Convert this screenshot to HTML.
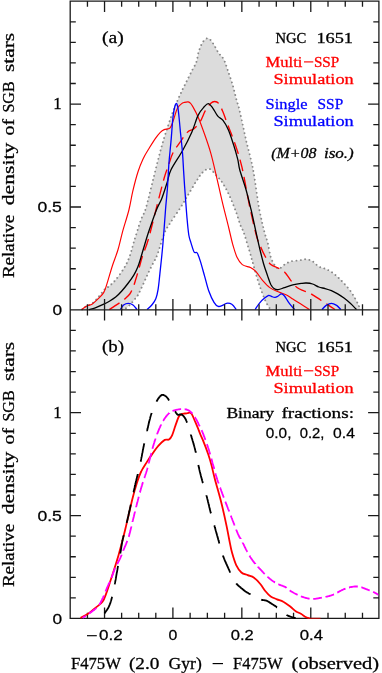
<!DOCTYPE html>
<html><head><meta charset="utf-8"><title>NGC 1651 SGB density</title>
<style>
html,body{margin:0;padding:0;background:#fff;}
body{width:382px;height:673px;overflow:hidden;}
svg{display:block;font-family:"Liberation Serif",serif;}
svg text{stroke-width:0.3px;}
</style></head>
<body>
<svg width="382" height="673" viewBox="0 0 382 673">
<rect x="0" y="0" width="382" height="673" fill="#fff"/>
<path d="M82.0,309.4C82.6,308.9 84.0,307.5 85.7,306.5C87.4,305.5 89.9,305.1 92.0,303.5C94.1,301.9 96.2,299.5 98.3,297.1C100.4,294.7 102.9,291.1 104.7,289.3C106.5,287.5 107.5,287.7 109.3,286.1C111.1,284.5 113.3,282.7 115.7,279.8C118.1,276.9 121.4,272.5 123.6,268.8C125.8,265.1 127.3,262.5 129.1,257.9C130.8,253.3 132.2,247.6 134.1,241.4C136.0,235.2 138.7,226.1 140.7,220.5C142.7,214.9 143.7,215.3 145.9,208.0C148.1,200.7 151.2,187.0 153.8,176.8C156.4,166.6 158.8,156.4 161.6,146.6C164.4,136.8 168.2,125.2 170.6,118.1C173.0,111.0 174.3,108.5 176.1,104.0C177.9,99.5 179.8,95.3 181.6,91.4C183.4,87.5 185.3,84.1 187.1,80.4C188.9,76.7 191.0,72.5 192.6,69.4C194.2,66.3 195.5,64.6 196.5,61.6C197.5,58.6 197.8,54.6 198.8,51.4C199.8,48.2 201.2,44.5 202.7,42.3C204.2,40.1 206.2,38.1 208.0,38.3C209.8,38.5 211.5,41.2 213.2,43.6C214.9,46.0 216.7,50.1 218.4,52.7C220.2,55.3 222.2,56.5 223.7,59.3C225.2,62.1 226.1,65.3 227.6,69.7C229.1,74.1 231.3,80.2 232.8,85.4C234.3,90.7 235.8,97.6 236.8,101.2C237.8,104.8 237.7,102.7 238.7,106.8C239.7,110.9 241.5,119.3 242.9,125.6C244.3,131.9 245.7,138.6 247.1,144.5C248.5,150.4 250.2,156.3 251.3,161.2C252.4,166.0 252.5,165.9 253.8,173.6C255.1,181.3 257.3,198.0 259.0,207.6C260.7,217.2 262.8,225.4 264.2,231.2C265.6,237.0 266.6,238.3 267.7,242.6C268.8,246.9 269.6,253.4 270.8,257.2C272.0,261.0 273.6,263.7 275.0,265.6C276.4,267.5 277.6,268.9 279.2,268.7C280.8,268.5 282.6,265.8 284.5,264.6C286.4,263.4 288.3,262.1 290.7,261.4C293.1,260.7 296.5,260.8 299.1,260.4C301.7,260.0 304.1,259.1 306.3,259.3C308.6,259.5 310.5,260.2 312.6,261.4C314.7,262.6 316.7,265.4 318.8,266.6C320.9,267.8 323.0,267.8 325.1,268.7C327.2,269.6 329.3,270.5 331.4,271.9C333.5,273.3 335.6,275.2 337.7,277.1C339.8,279.0 341.9,281.1 344.0,283.4C346.1,285.7 348.4,288.1 350.3,290.7C352.2,293.3 354.1,296.7 355.5,299.1C356.9,301.6 357.7,303.7 358.6,305.4C359.5,307.1 360.4,308.8 360.7,309.5L270.5,309.5L270.5,309.5C270.4,309.3 270.6,309.9 269.8,308.5C269.0,307.1 267.0,304.2 265.6,301.2C264.2,298.2 262.8,294.5 261.4,290.7C260.0,286.9 258.6,282.7 257.2,278.2C255.8,273.7 254.4,268.4 253.0,263.5C251.6,258.6 250.4,254.1 248.8,248.8C247.2,243.6 244.9,235.8 243.6,232.0C242.2,228.2 242.1,229.5 240.7,225.9C239.3,222.3 237.4,215.4 235.4,210.2C233.4,205.0 231.1,199.1 228.9,194.5C226.7,189.9 224.6,186.0 222.4,182.7C220.2,179.4 218.0,177.2 215.8,174.9C213.6,172.6 211.5,169.2 209.3,168.8C207.1,168.4 204.9,170.2 202.7,172.3C200.5,174.4 198.6,177.7 196.2,181.4C193.8,185.1 190.9,190.1 188.3,194.5C185.7,198.9 183.6,202.8 180.5,207.6C177.4,212.4 172.7,219.0 170.0,223.3C167.3,227.6 166.3,228.4 164.2,233.6C162.1,238.8 159.1,249.9 157.3,254.7C155.5,259.5 154.8,259.7 153.4,262.6C152.0,265.5 150.1,269.0 148.7,272.0C147.3,275.0 146.1,277.7 144.8,280.6C143.5,283.5 142.0,286.8 140.8,289.3C139.6,291.8 138.9,293.7 137.7,295.5C136.5,297.3 135.1,298.7 133.8,300.3C132.5,301.9 131.2,303.6 129.8,305.0C128.4,306.4 126.4,308.1 125.1,308.9C123.8,309.6 122.5,309.4 122.0,309.5Z" fill="#dcdcdc" stroke="none"/>
<path d="M82.0,309.4C82.6,308.9 84.0,307.5 85.7,306.5C87.4,305.5 89.9,305.1 92.0,303.5C94.1,301.9 96.2,299.5 98.3,297.1C100.4,294.7 102.9,291.1 104.7,289.3C106.5,287.5 107.5,287.7 109.3,286.1C111.1,284.5 113.3,282.7 115.7,279.8C118.1,276.9 121.4,272.5 123.6,268.8C125.8,265.1 127.3,262.5 129.1,257.9C130.8,253.3 132.2,247.6 134.1,241.4C136.0,235.2 138.7,226.1 140.7,220.5C142.7,214.9 143.7,215.3 145.9,208.0C148.1,200.7 151.2,187.0 153.8,176.8C156.4,166.6 158.8,156.4 161.6,146.6C164.4,136.8 168.2,125.2 170.6,118.1C173.0,111.0 174.3,108.5 176.1,104.0C177.9,99.5 179.8,95.3 181.6,91.4C183.4,87.5 185.3,84.1 187.1,80.4C188.9,76.7 191.0,72.5 192.6,69.4C194.2,66.3 195.5,64.6 196.5,61.6C197.5,58.6 197.8,54.6 198.8,51.4C199.8,48.2 201.2,44.5 202.7,42.3C204.2,40.1 206.2,38.1 208.0,38.3C209.8,38.5 211.5,41.2 213.2,43.6C214.9,46.0 216.7,50.1 218.4,52.7C220.2,55.3 222.2,56.5 223.7,59.3C225.2,62.1 226.1,65.3 227.6,69.7C229.1,74.1 231.3,80.2 232.8,85.4C234.3,90.7 235.8,97.6 236.8,101.2C237.8,104.8 237.7,102.7 238.7,106.8C239.7,110.9 241.5,119.3 242.9,125.6C244.3,131.9 245.7,138.6 247.1,144.5C248.5,150.4 250.2,156.3 251.3,161.2C252.4,166.0 252.5,165.9 253.8,173.6C255.1,181.3 257.3,198.0 259.0,207.6C260.7,217.2 262.8,225.4 264.2,231.2C265.6,237.0 266.6,238.3 267.7,242.6C268.8,246.9 269.6,253.4 270.8,257.2C272.0,261.0 273.6,263.7 275.0,265.6C276.4,267.5 277.6,268.9 279.2,268.7C280.8,268.5 282.6,265.8 284.5,264.6C286.4,263.4 288.3,262.1 290.7,261.4C293.1,260.7 296.5,260.8 299.1,260.4C301.7,260.0 304.1,259.1 306.3,259.3C308.6,259.5 310.5,260.2 312.6,261.4C314.7,262.6 316.7,265.4 318.8,266.6C320.9,267.8 323.0,267.8 325.1,268.7C327.2,269.6 329.3,270.5 331.4,271.9C333.5,273.3 335.6,275.2 337.7,277.1C339.8,279.0 341.9,281.1 344.0,283.4C346.1,285.7 348.4,288.1 350.3,290.7C352.2,293.3 354.1,296.7 355.5,299.1C356.9,301.6 357.7,303.7 358.6,305.4C359.5,307.1 360.4,308.8 360.7,309.5" fill="none" stroke="#888888" stroke-width="1.9" stroke-linecap="round" stroke-dasharray="0.01 4.35"/>
<path d="M122.0,309.5C122.5,309.4 123.8,309.6 125.1,308.9C126.4,308.1 128.4,306.4 129.8,305.0C131.2,303.6 132.5,301.9 133.8,300.3C135.1,298.7 136.5,297.3 137.7,295.5C138.9,293.7 139.6,291.8 140.8,289.3C142.0,286.8 143.5,283.5 144.8,280.6C146.1,277.7 147.3,275.0 148.7,272.0C150.1,269.0 152.0,265.5 153.4,262.6C154.8,259.7 155.5,259.5 157.3,254.7C159.1,249.9 162.1,238.8 164.2,233.6C166.3,228.4 167.3,227.6 170.0,223.3C172.7,219.0 177.4,212.4 180.5,207.6C183.6,202.8 185.7,198.9 188.3,194.5C190.9,190.1 193.8,185.1 196.2,181.4C198.6,177.7 200.5,174.4 202.7,172.3C204.9,170.2 207.1,168.4 209.3,168.8C211.5,169.2 213.6,172.6 215.8,174.9C218.0,177.2 220.2,179.4 222.4,182.7C224.6,186.0 226.7,189.9 228.9,194.5C231.1,199.1 233.4,205.0 235.4,210.2C237.4,215.4 239.3,222.3 240.7,225.9C242.1,229.5 242.2,228.2 243.6,232.0C244.9,235.8 247.2,243.6 248.8,248.8C250.4,254.1 251.6,258.6 253.0,263.5C254.4,268.4 255.8,273.7 257.2,278.2C258.6,282.7 260.0,286.9 261.4,290.7C262.8,294.5 264.2,298.2 265.6,301.2C267.0,304.2 269.0,307.1 269.8,308.5C270.6,309.9 270.4,309.3 270.5,309.5" fill="none" stroke="#888888" stroke-width="1.9" stroke-linecap="round" stroke-dasharray="0.01 4.35"/>
<path d="M81.8,309.4C82.7,308.8 85.6,306.7 87.3,305.8C89.0,304.9 90.2,305.4 92.0,304.2C93.8,303.0 96.3,300.7 98.3,298.7C100.3,296.7 102.2,295.3 103.8,292.4C105.4,289.5 106.3,285.8 107.7,281.4C109.1,276.9 110.7,270.9 112.4,265.7C114.1,260.5 116.2,255.6 117.9,250.0C119.6,244.4 120.6,239.0 122.4,232.3C124.2,225.6 127.2,216.8 128.9,210.0C130.6,203.2 131.3,197.6 132.8,191.2C134.3,184.8 136.3,177.0 138.1,171.5C139.8,166.0 141.6,162.1 143.3,158.4C145.0,154.7 146.5,152.6 148.5,149.3C150.5,146.0 153.1,141.6 155.1,138.8C157.1,136.0 158.8,133.8 160.3,132.3C161.8,130.8 162.6,130.3 164.2,129.6C165.8,128.9 168.4,129.5 169.9,128.1C171.4,126.7 171.8,124.6 173.0,121.4C174.2,118.2 175.8,111.7 177.2,108.8C178.6,105.9 180.2,104.9 181.4,103.8C182.6,102.7 183.4,102.7 184.5,102.4C185.6,102.1 187.2,101.8 188.2,101.9C189.2,102.1 189.8,102.5 190.6,103.3C191.4,104.1 191.6,104.5 192.9,106.8C194.2,109.1 196.3,112.7 198.2,117.2C200.1,121.7 202.4,128.1 204.5,134.0C206.6,139.9 208.8,146.2 210.7,152.8C212.6,159.4 213.9,165.3 215.8,173.6C217.8,181.9 220.2,193.2 222.4,202.4C224.6,211.6 227.2,221.4 228.9,228.5C230.6,235.6 231.5,239.9 232.8,244.7C234.2,249.5 235.4,253.9 237.0,257.2C238.6,260.5 240.0,262.9 242.3,264.6C244.6,266.4 248.6,266.5 250.9,267.7C253.2,268.9 254.3,269.8 256.2,271.9C258.1,274.0 260.2,277.7 262.5,280.3C264.8,282.9 267.2,285.7 269.8,287.6C272.4,289.5 275.4,290.6 278.2,291.8C281.0,293.0 284.1,293.7 286.5,294.9C288.9,296.1 290.4,297.5 292.8,299.1C295.2,300.7 298.4,302.6 301.2,304.3C304.0,306.0 308.0,308.6 309.4,309.5" fill="none" stroke="#ff0000" stroke-width="1.15"/>
<path d="M109.3,309.5C110.9,308.5 116.2,305.2 118.8,303.4C121.4,301.6 123.3,300.3 125.1,298.7C126.9,297.1 128.5,295.8 129.8,294.0C131.1,292.2 131.9,290.3 133.0,287.7C134.1,285.1 135.0,281.7 136.1,278.3C137.2,274.9 138.2,271.0 139.3,267.3C140.4,263.6 140.9,261.1 142.4,256.3C143.9,251.6 146.2,246.9 148.5,238.8C150.8,230.8 153.8,218.1 156.4,208.0C159.0,197.9 162.2,184.9 164.2,178.0C166.2,171.1 166.7,170.5 168.2,166.3C169.7,162.1 170.8,157.1 173.0,152.8C175.2,148.5 179.0,143.8 181.4,140.3C183.8,136.8 185.6,133.8 187.7,131.9C189.8,130.0 191.9,130.4 194.0,128.7C196.1,126.9 198.4,124.4 200.3,121.4C202.2,118.4 203.5,113.9 205.2,110.9C206.9,107.9 208.9,105.2 210.5,103.6C212.1,102.0 213.3,101.5 214.7,101.5C216.1,101.5 217.4,101.8 218.8,103.6C220.2,105.3 221.6,108.7 223.0,112.0C224.4,115.3 225.8,119.8 227.2,123.5C228.6,127.2 229.7,129.5 231.4,134.0C233.1,138.5 235.6,145.5 237.3,150.7C239.0,155.9 240.3,160.8 241.5,165.4C242.7,170.0 242.8,171.0 244.2,178.0C245.6,185.0 247.8,197.9 249.9,207.6C252.0,217.3 254.8,229.9 256.6,236.4C258.4,242.9 259.1,243.3 260.6,246.8C262.1,250.3 263.9,254.2 265.6,257.2C267.3,260.2 268.7,262.8 270.8,264.6C272.9,266.4 275.9,266.9 278.2,268.1C280.5,269.3 282.4,269.9 284.5,271.9C286.6,273.9 288.6,277.7 290.7,280.3C292.8,282.9 294.9,285.9 297.0,287.6C299.1,289.3 301.1,289.8 303.3,290.7C305.5,291.6 308.4,292.1 310.0,292.8C311.6,293.5 310.8,293.7 312.6,294.9C314.4,296.1 318.5,298.6 320.9,300.2C323.3,301.8 325.1,302.9 327.2,304.3C329.3,305.7 332.2,307.6 333.5,308.5C334.8,309.4 334.8,309.3 335.0,309.5" fill="none" stroke="#ff0000" stroke-width="1.35" stroke-dasharray="12 6" stroke-dashoffset="0"/>
<path d="M88.8,309.6C89.9,309.3 92.9,308.7 95.3,307.8C97.7,306.9 100.8,305.5 103.2,304.4C105.6,303.3 107.3,302.4 109.4,301.2C111.5,300.0 113.6,298.8 115.7,297.1C117.8,295.4 119.9,293.2 122.0,290.8C124.1,288.4 126.3,285.6 128.3,283.0C130.3,280.4 132.2,277.7 133.8,275.1C135.4,272.5 136.5,270.2 137.7,267.3C138.9,264.4 139.9,260.9 140.8,257.9C141.7,254.9 142.0,253.6 143.3,249.3C144.6,245.0 146.3,238.9 148.5,232.3C150.7,225.8 154.2,215.6 156.4,210.0C158.6,204.4 159.8,203.4 161.6,199.0C163.3,194.6 165.3,188.1 166.9,183.3C168.5,178.5 168.3,175.4 170.9,170.0C173.5,164.6 179.0,157.0 182.5,150.7C186.0,144.3 189.3,137.8 191.9,131.9C194.5,126.0 196.1,119.3 198.2,115.1C200.2,110.9 202.5,108.7 204.2,106.8C205.9,104.9 207.0,103.4 208.4,103.6C209.8,103.8 211.0,105.7 212.6,107.8C214.2,109.9 216.1,114.1 217.8,116.2C219.5,118.3 221.2,118.1 223.0,120.4C224.8,122.7 226.6,125.8 228.3,129.8C230.1,133.8 231.9,139.6 233.5,144.5C235.1,149.4 236.6,154.8 237.7,159.1C238.8,163.3 238.4,165.0 239.8,170.0C241.2,175.0 244.0,182.6 245.9,189.3C247.8,196.0 249.4,202.8 251.2,210.2C252.9,217.6 255.0,227.7 256.4,233.8C257.8,239.9 258.1,241.9 259.3,246.8C260.5,251.8 262.1,258.6 263.5,263.5C264.9,268.4 266.5,272.6 267.7,276.1C268.9,279.6 269.8,282.4 270.8,284.5C271.9,286.6 272.8,287.7 274.0,288.6C275.2,289.5 276.4,289.9 278.2,289.7C279.9,289.5 282.1,288.4 284.5,287.6C286.9,286.8 290.0,285.6 292.8,284.9C295.6,284.2 298.9,283.7 301.2,283.4C303.4,283.1 304.4,282.9 306.3,283.0C308.2,283.1 310.5,283.3 312.6,284.0C314.7,284.7 316.7,286.2 318.8,287.0C320.9,287.8 323.0,288.0 325.1,288.6C327.2,289.2 329.3,289.8 331.4,290.7C333.5,291.6 335.6,292.7 337.7,293.9C339.8,295.1 341.9,296.5 344.0,298.1C346.1,299.7 348.4,301.6 350.3,303.3C352.2,305.0 354.5,307.5 355.5,308.5C356.5,309.5 356.3,309.3 356.5,309.5" fill="none" stroke="#000" stroke-width="1.3"/>
<path d="M120.4,309.5C120.9,308.8 122.3,306.0 123.6,305.0C124.9,304.0 126.7,303.4 128.3,303.4C129.9,303.4 131.6,304.0 133.0,305.0C134.4,306.0 136.3,308.8 137.0,309.5" fill="none" stroke="#0000ff" stroke-width="1.3"/>
<path d="M147.1,309.5C147.9,308.8 150.4,306.8 151.8,305.0C153.2,303.2 154.8,301.3 155.8,298.7C156.9,296.1 157.4,293.5 158.1,289.3C158.8,285.1 159.1,281.2 159.9,273.6C160.7,266.1 162.0,254.6 162.9,244.0C163.8,233.4 164.8,219.2 165.5,210.0C166.2,200.8 166.8,196.4 167.4,188.5C168.0,180.6 168.4,170.1 169.0,162.4C169.6,154.7 170.2,149.9 170.9,142.4C171.6,134.9 172.3,123.2 173.0,117.2C173.7,111.2 174.2,108.8 174.8,106.5C175.4,104.2 175.8,103.4 176.3,103.3C176.8,103.2 177.2,104.4 177.6,106.0C178.0,107.6 178.1,108.7 178.6,113.0C179.1,117.3 179.8,125.3 180.4,131.9C181.1,138.5 182.0,146.3 182.5,152.8C183.0,159.3 183.2,164.0 183.6,170.9C184.0,177.8 184.6,186.7 185.2,194.5C185.8,202.3 186.4,211.2 187.0,218.0C187.6,224.8 188.2,230.9 188.8,235.0C189.5,239.1 190.0,239.8 190.9,242.6C191.8,245.4 193.1,250.3 194.1,252.0C195.1,253.7 196.1,251.4 197.2,253.0C198.2,254.6 199.2,257.5 200.4,261.4C201.6,265.2 203.2,271.2 204.6,276.1C206.0,281.0 207.1,286.3 208.7,290.7C210.3,295.1 212.4,299.7 214.0,302.3C215.6,304.9 216.8,305.9 218.2,306.4C219.6,306.9 221.0,305.9 222.4,305.4C223.8,304.9 224.9,303.5 226.5,303.3C228.1,303.1 230.2,303.3 231.8,304.3C233.4,305.3 235.6,308.6 236.3,309.5" fill="none" stroke="#0000ff" stroke-width="1.3"/>
<path d="M255.1,309.5C255.8,308.5 257.7,305.2 259.3,303.3C260.9,301.4 263.0,299.4 264.6,298.1C266.2,296.8 267.5,295.6 268.7,295.3C269.9,295.1 270.8,296.2 271.9,296.6C272.9,297.0 273.9,297.5 275.0,297.4C276.1,297.3 277.1,296.6 278.2,296.0C279.2,295.4 280.2,293.9 281.3,293.9C282.4,293.9 283.3,294.6 284.5,296.0C285.7,297.4 287.2,300.4 288.6,302.3C290.0,304.2 291.8,306.3 292.8,307.5C293.9,308.7 294.5,309.2 294.9,309.5" fill="none" stroke="#0000ff" stroke-width="1.3"/>
<path d="M322.0,309.5C322.7,308.8 324.6,306.4 326.2,305.4C327.8,304.4 329.7,303.3 331.4,303.3C333.1,303.3 335.0,304.4 336.6,305.4C338.2,306.4 340.1,308.8 340.8,309.5" fill="none" stroke="#0000ff" stroke-width="1.3"/>
<path d="M70.20,1.20H378.90V618.30H70.20ZM70.20,309.80H378.90M87.45,1.20v5.60M87.45,304.20v11.20M87.45,618.30v-5.60M104.54,1.20v10.80M104.54,299.00v21.60M104.54,618.30v-10.80M121.63,1.20v5.60M121.63,304.20v11.20M121.63,618.30v-5.60M138.72,1.20v5.60M138.72,304.20v11.20M138.72,618.30v-5.60M155.81,1.20v5.60M155.81,304.20v11.20M155.81,618.30v-5.60M172.90,1.20v10.80M172.90,299.00v21.60M172.90,618.30v-10.80M190.13,1.20v5.60M190.13,304.20v11.20M190.13,618.30v-5.60M207.37,1.20v5.60M207.37,304.20v11.20M207.37,618.30v-5.60M224.61,1.20v5.60M224.61,304.20v11.20M224.61,618.30v-5.60M241.84,1.20v10.80M241.84,299.00v21.60M241.84,618.30v-10.80M259.07,1.20v5.60M259.07,304.20v11.20M259.07,618.30v-5.60M276.31,1.20v5.60M276.31,304.20v11.20M276.31,618.30v-5.60M293.55,1.20v5.60M293.55,304.20v11.20M293.55,618.30v-5.60M310.78,1.20v10.80M310.78,299.00v21.60M310.78,618.30v-10.80M328.01,1.20v5.60M328.01,304.20v11.20M328.01,618.30v-5.60M345.25,1.20v5.60M345.25,304.20v11.20M345.25,618.30v-5.60M362.49,1.20v5.60M362.49,304.20v11.20M362.49,618.30v-5.60M70.20,289.32h5.60M378.90,289.32h-5.60M70.20,268.74h5.60M378.90,268.74h-5.60M70.20,248.16h5.60M378.90,248.16h-5.60M70.20,227.58h5.60M378.90,227.58h-5.60M70.20,207.00h10.80M378.90,207.00h-10.80M70.20,186.42h5.60M378.90,186.42h-5.60M70.20,165.84h5.60M378.90,165.84h-5.60M70.20,145.26h5.60M378.90,145.26h-5.60M70.20,124.68h5.60M378.90,124.68h-5.60M70.20,104.10h10.80M378.90,104.10h-10.80M70.20,83.52h5.60M378.90,83.52h-5.60M70.20,62.94h5.60M378.90,62.94h-5.60M70.20,42.36h5.60M378.90,42.36h-5.60M70.20,21.78h5.60M378.90,21.78h-5.60M70.20,597.92h5.60M378.90,597.92h-5.60M70.20,577.34h5.60M378.90,577.34h-5.60M70.20,556.76h5.60M378.90,556.76h-5.60M70.20,536.18h5.60M378.90,536.18h-5.60M70.20,515.60h10.80M378.90,515.60h-10.80M70.20,495.02h5.60M378.90,495.02h-5.60M70.20,474.44h5.60M378.90,474.44h-5.60M70.20,453.86h5.60M378.90,453.86h-5.60M70.20,433.28h5.60M378.90,433.28h-5.60M70.20,412.70h10.80M378.90,412.70h-10.80M70.20,392.12h5.60M378.90,392.12h-5.60M70.20,371.54h5.60M378.90,371.54h-5.60M70.20,350.96h5.60M378.90,350.96h-5.60M70.20,330.38h5.60M378.90,330.38h-5.60" fill="none" stroke="#1a1a1a" stroke-width="1.3" stroke-linecap="butt"/>
<path d="M80.5,617.9C81.9,617.1 86.4,614.9 88.8,613.3C91.2,611.7 92.8,610.0 95.1,608.1C97.4,606.2 100.6,604.4 102.5,601.8C104.4,599.2 105.2,596.0 106.6,592.4C108.0,588.8 109.4,584.1 110.7,580.0C112.0,575.9 113.3,572.2 114.6,568.0C115.9,563.8 117.4,559.0 118.6,554.9C119.8,550.8 120.7,547.2 121.8,543.1C122.9,539.0 124.1,534.1 125.1,530.0C126.1,525.9 126.5,524.0 127.8,518.6C129.1,513.2 131.2,503.6 132.7,497.7C134.2,491.8 135.5,487.4 136.9,483.0C138.3,478.6 139.5,475.0 141.2,471.5C142.8,468.0 145.0,465.0 146.8,462.1C148.6,459.2 150.2,456.8 152.2,454.1C154.1,451.4 156.4,448.1 158.5,445.7C160.6,443.3 163.1,440.9 164.8,439.9C166.6,438.9 167.8,440.3 169.0,439.5C170.2,438.7 171.0,437.7 172.1,435.3C173.2,432.9 174.4,428.4 175.5,425.4C176.6,422.3 177.7,418.9 178.6,417.0C179.5,415.1 180.1,414.8 181.2,414.2C182.2,413.6 183.8,413.7 184.9,413.5C186.0,413.3 186.6,413.3 187.5,413.2C188.4,413.1 189.3,412.4 190.1,412.7C190.9,413.0 191.3,413.3 192.2,414.9C193.1,416.5 194.3,419.8 195.4,422.2C196.5,424.6 197.6,427.5 198.5,429.6C199.4,431.7 199.8,433.2 200.6,435.0C201.3,436.8 201.7,437.1 203.0,440.4C204.3,443.6 206.9,450.4 208.3,454.5C209.7,458.6 210.3,460.6 211.4,464.9C212.5,469.1 213.4,473.6 215.1,480.0C216.8,486.4 219.5,495.3 221.4,503.0C223.3,510.7 225.3,519.9 226.6,526.1C227.9,532.3 228.4,535.6 229.3,540.0C230.2,544.4 230.8,548.4 232.0,552.6C233.2,556.8 234.6,561.8 236.2,565.1C237.8,568.4 239.5,570.8 241.4,572.5C243.3,574.2 245.6,574.3 247.7,575.2C249.8,576.1 251.9,576.2 254.0,577.7C256.1,579.2 258.4,581.7 260.3,584.0C262.2,586.3 263.8,589.2 265.5,591.3C267.2,593.4 268.8,595.2 270.7,596.5C272.6,597.8 274.9,598.4 277.0,599.3C279.1,600.2 281.1,600.5 283.3,601.8C285.6,603.0 288.4,605.2 290.5,606.8C292.6,608.4 294.0,610.0 295.7,611.2C297.4,612.4 299.1,612.8 300.9,613.8C302.6,614.8 304.8,616.5 306.2,617.2C307.6,617.9 308.9,618.0 309.5,618.1" fill="none" stroke="#ff0000" stroke-width="1.8"/>
<path d="M309,618.3H320.5" stroke="#ff0000" stroke-width="1.0" opacity="0.75" fill="none"/>
<clipPath id="cpb"><rect x="70" y="310" width="308.3" height="309"/></clipPath>
<path d="M379.5,595.5L379.4,595.4L379.3,595.4L379.1,595.3L379.0,595.2L378.8,595.1L378.6,594.9L378.4,594.8L378.2,594.7L378.0,594.6L377.8,594.4L377.6,594.3L377.3,594.1L377.1,594.0L376.9,593.9L376.6,593.7L376.3,593.6L376.1,593.4L375.8,593.3L375.6,593.1L375.3,593.0L375.0,592.8L374.7,592.7L374.5,592.5L374.2,592.4L373.9,592.3L373.6,592.1L373.3,592.0L373.1,591.9M369.7,590.5L369.4,590.4L369.1,590.2L368.8,590.1L368.4,590.0L368.1,589.8L367.7,589.7L367.4,589.6L367.1,589.4L366.7,589.3L366.4,589.2L366.1,589.1L365.7,589.0L365.4,588.8L365.1,588.7L364.8,588.6L364.4,588.4L364.1,588.3L363.8,588.2L363.4,588.0L363.1,587.9L362.8,587.8L362.4,587.7L362.1,587.5L361.8,587.4L361.5,587.3L361.3,587.3M357.8,586.5L357.5,586.5L357.2,586.5L356.9,586.5L356.5,586.5L356.2,586.5L355.9,586.5L355.6,586.5L355.2,586.5L354.9,586.5L354.6,586.5L354.3,586.6L354.0,586.6L353.6,586.6L353.3,586.7L353.0,586.7L352.7,586.8L352.3,586.8L352.0,586.9L351.7,586.9L351.4,587.0L351.0,587.0L350.7,587.1L350.4,587.2L350.1,587.2L349.7,587.3L349.4,587.4L349.1,587.5L349.0,587.5M345.5,588.6L345.3,588.7L345.0,588.8L344.6,588.9L344.3,589.1L343.9,589.2L343.5,589.4L343.2,589.5L342.8,589.7L342.4,589.9L342.0,590.1L341.6,590.3L341.2,590.5L340.8,590.7L340.4,590.9L340.0,591.1L339.5,591.4L339.1,591.6L338.6,591.9L338.2,592.1L337.8,592.4L337.3,592.6M334.0,594.3L333.7,594.4L333.3,594.6L332.8,594.8L332.4,595.0L332.0,595.2L331.5,595.3L331.1,595.5L330.7,595.6L330.2,595.7L329.8,595.9L329.3,596.0L328.9,596.1L328.5,596.2L328.0,596.3L327.6,596.4L327.2,596.6L326.7,596.6L326.3,596.7L325.8,596.8L325.5,596.9M321.9,597.6L321.9,597.6L321.5,597.7L321.0,597.8L320.6,597.9L320.2,597.9L319.7,598.0L319.3,598.1L318.8,598.2L318.4,598.3L318.0,598.4L317.5,598.4L317.1,598.5L316.6,598.6L316.2,598.6L315.8,598.7L315.3,598.8L314.9,598.8L314.5,598.8L314.0,598.9L313.6,598.9L313.2,598.9M309.6,598.7L309.2,598.7L308.8,598.6L308.3,598.5L307.9,598.4L307.5,598.3L307.0,598.2L306.6,598.1L306.1,598.0L305.7,597.9L305.3,597.8L304.8,597.6L304.4,597.5L304.0,597.4L303.5,597.2L303.1,597.1L302.6,596.9L302.2,596.8L301.8,596.6L301.3,596.5L301.0,596.3M297.6,594.9L297.2,594.7L296.8,594.4L296.3,594.2L295.8,594.0L295.4,593.7L294.9,593.5L294.5,593.2L294.0,593.0L293.6,592.8L293.1,592.5L292.7,592.3L292.3,592.1L291.9,591.8L291.5,591.6L291.2,591.4L290.8,591.2L290.5,591.0L290.2,590.8L289.9,590.6L289.6,590.4L289.6,590.4M286.6,587.9L286.6,587.9L286.4,587.7L286.2,587.6L285.9,587.4L285.7,587.3L285.4,587.1L285.1,586.9L284.8,586.8L284.5,586.7L284.2,586.5L283.9,586.4L283.5,586.3L283.2,586.1L282.8,586.0L282.5,585.9L282.1,585.7L281.8,585.6L281.4,585.5L281.0,585.3L280.7,585.2L280.3,585.1L279.9,584.9L279.5,584.8L279.2,584.6L278.8,584.5L278.4,584.3L278.3,584.3M275.0,582.4L274.9,582.4L274.5,582.1L274.2,581.9L273.8,581.7L273.5,581.4L273.1,581.2L272.8,581.0L272.4,580.7L272.1,580.5L271.7,580.2L271.4,579.9L271.0,579.7L270.7,579.4L270.3,579.1L270.0,578.9L269.6,578.6L269.3,578.3L268.9,578.0L268.6,577.7L268.3,577.4L267.9,577.1L267.6,576.8L267.5,576.7M264.7,574.0L264.4,573.7L264.0,573.3L263.7,572.9L263.3,572.6L263.0,572.2L262.7,571.8L262.3,571.5L262.0,571.1L261.6,570.7L261.3,570.4L261.0,570.0L260.6,569.7L260.3,569.3L260.0,569.0L259.6,568.6L259.3,568.3L259.0,567.9L258.7,567.6L258.4,567.2L258.0,566.9L258.0,566.8M255.3,563.9L255.3,563.8L255.0,563.5L254.7,563.1L254.4,562.8L254.1,562.4L253.8,562.0L253.5,561.7L253.2,561.3L252.9,560.9L252.6,560.5L252.3,560.1L252.1,559.7L251.8,559.3L251.5,558.9L251.2,558.4L250.9,558.0L250.7,557.6L250.4,557.2L250.1,556.7L249.9,556.3L249.6,555.8L249.5,555.6M247.4,551.9L247.3,551.8L247.1,551.4L246.8,550.9L246.6,550.5L246.4,550.1L246.1,549.6L245.9,549.2L245.6,548.7L245.4,548.2L245.2,547.8L244.9,547.3L244.7,546.8L244.5,546.4L244.3,545.9L244.0,545.4L243.8,544.9L243.6,544.5L243.4,544.0L243.2,543.6L242.9,543.1L242.7,542.7L242.7,542.6M240.7,538.9L240.7,538.8L240.6,538.6L240.4,538.4L240.3,538.3L240.2,538.2L240.1,538.0L240.0,537.9L239.9,537.8L239.8,537.6L239.7,537.5L239.6,537.3L239.5,537.1L239.4,536.9L239.2,536.7L239.1,536.4L239.0,536.1L238.8,535.8L238.6,535.4L238.4,535.0L238.2,534.5L238.0,534.0L237.7,533.4L237.5,532.8L237.2,532.1L236.9,531.4L236.6,530.7L236.3,530.0L236.2,529.5M234.6,525.5L234.4,525.0L234.1,524.1L233.8,523.3L233.4,522.4L233.1,521.5L232.7,520.6L232.4,519.8L232.1,518.9L231.7,518.0L231.4,517.2L231.1,516.4L230.8,515.6L230.8,515.6M229.2,511.5L229.0,510.9L228.7,510.1L228.3,509.3L228.0,508.6L227.7,507.8L227.4,507.0L227.1,506.2L226.8,505.4L226.5,504.7L226.2,503.9L225.9,503.1L225.6,502.3L225.3,501.7M223.8,497.6L223.5,496.8L223.2,496.0L222.9,495.2L222.6,494.4L222.3,493.6L222.0,492.7L221.7,491.9L221.4,491.1L221.1,490.2L220.8,489.4L220.5,488.6L220.2,487.7L220.1,487.6M218.6,483.5L218.4,482.8L218.1,482.0L217.8,481.2L217.6,480.5L217.3,479.7L217.1,478.9L216.8,478.2L216.6,477.5L216.4,476.8L216.2,476.1L216.0,475.4L215.8,474.8L215.6,474.1L215.4,473.5L215.3,473.3M214.2,469.0L214.1,468.7L213.9,468.1L213.8,467.5L213.6,466.9L213.5,466.4L213.3,465.8L213.2,465.2L213.0,464.6L212.8,464.0L212.7,463.4L212.5,462.8L212.3,462.2L212.2,461.6L212.0,461.0L211.8,460.4L211.7,459.8L211.5,459.1L211.3,458.6M210.2,454.4L210.1,454.3L210.0,453.7L209.8,453.1L209.6,452.5L209.4,451.9L209.2,451.2L209.1,450.6L208.9,450.0L208.7,449.4L208.5,448.8L208.3,448.2L208.1,447.6L207.9,446.9L207.7,446.3L207.4,445.7L207.2,445.0L207.0,444.3L206.9,444.1M205.5,440.0L205.3,439.6L205.1,439.0L204.8,438.4L204.6,437.7L204.4,437.1L204.2,436.5L203.9,436.0L203.7,435.4L203.5,434.9L203.4,434.4L203.2,433.9L203.0,433.5L202.8,433.1L202.7,432.7L202.6,432.4L202.4,432.1L202.3,431.8L202.2,431.6L202.1,431.3L202.0,431.1L201.9,430.9L201.9,430.8L201.8,430.6L201.7,430.4L201.6,430.3L201.6,430.2M199.7,426.4L199.5,426.0L199.3,425.5L199.1,425.1L198.9,424.6L198.6,424.2L198.4,423.7L198.2,423.2L198.0,422.7L197.7,422.3L197.5,421.8L197.3,421.3L197.0,420.8L196.8,420.4L196.6,419.9L196.3,419.5L196.1,419.1L195.9,418.6L195.6,418.2L195.4,417.9L195.2,417.5L195.0,417.2L194.9,417.1M192.5,413.7L192.4,413.6L192.2,413.3L192.0,413.1L191.7,412.8L191.5,412.6L191.3,412.4L191.1,412.2L190.8,412.0L190.6,411.8L190.4,411.6L190.1,411.4L189.9,411.2L189.7,411.0L189.4,410.9L189.2,410.7L188.9,410.6L188.7,410.4L188.4,410.3L188.2,410.2L187.9,410.1L187.7,410.0L187.4,409.9L187.2,409.8L186.9,409.7L186.7,409.6L186.4,409.5L186.2,409.5L185.9,409.4L185.6,409.4L185.3,409.3L185.1,409.3L184.8,409.2L184.7,409.2M181.1,409.1L180.9,409.1L180.5,409.2L180.2,409.2L179.8,409.2L179.5,409.3L179.1,409.3L178.7,409.4L178.4,409.4L178.0,409.5L177.6,409.6L177.3,409.6L176.9,409.7L176.6,409.8L176.3,409.8L175.9,409.9L175.6,410.0L175.3,410.1L175.0,410.2L174.7,410.3L174.4,410.4L174.1,410.4L173.9,410.5L173.6,410.6L173.3,410.7L173.1,410.8L172.8,410.9L172.5,411.0L172.5,411.0M169.3,413.0L169.3,413.1L169.0,413.3L168.7,413.5L168.5,413.8L168.2,414.1L167.9,414.4L167.7,414.6L167.4,414.9L167.1,415.2L166.9,415.6L166.6,415.9L166.3,416.2L166.0,416.6L165.8,416.9L165.5,417.3L165.2,417.6L165.0,418.0L164.7,418.4L164.5,418.8L164.2,419.2L163.9,419.6L163.7,420.0L163.4,420.4L163.2,420.8L163.1,420.9M161.1,424.6L161.1,424.7L160.8,425.2L160.6,425.7L160.4,426.2L160.2,426.6L160.0,427.1L159.8,427.6L159.5,428.1L159.3,428.6L159.1,429.1L158.9,429.7L158.7,430.2L158.5,430.7L158.3,431.2L158.1,431.7L157.9,432.2L157.7,432.7L157.5,433.2L157.3,433.7L157.1,434.2L157.1,434.3M155.6,438.5L155.5,438.8L155.3,439.3L155.1,439.9L154.9,440.4L154.8,440.9L154.6,441.4L154.4,442.0L154.3,442.5L154.1,443.0L153.9,443.6L153.8,444.1L153.6,444.6L153.5,445.2L153.3,445.7L153.1,446.2L153.0,446.8L152.8,447.3L152.7,447.9L152.5,448.4L152.4,448.7M151.3,453.0L151.2,453.5L151.0,454.1L150.9,454.7L150.8,455.2L150.6,455.8L150.5,456.3L150.3,456.9L150.2,457.4L150.1,458.0L149.9,458.5L149.8,459.0L149.7,459.5L149.5,460.0L149.4,460.5L149.3,461.0L149.2,461.5L149.0,462.0L148.9,462.5L148.8,462.9L148.7,463.4L148.7,463.5M147.6,467.8L147.5,468.1L147.4,468.5L147.2,469.0L147.1,469.5L146.9,470.0L146.8,470.5L146.7,471.0L146.5,471.5L146.3,472.0L146.2,472.5L146.0,473.0L145.9,473.5L145.7,474.0L145.5,474.5L145.3,475.0L145.2,475.5L145.0,476.0L144.8,476.6L144.6,477.1L144.5,477.6L144.3,478.0M143.0,482.2L142.9,482.4L142.7,483.0L142.5,483.6L142.4,484.1L142.2,484.7L142.0,485.3L141.8,485.8L141.7,486.4L141.5,486.9L141.3,487.5L141.2,488.1L141.0,488.7L140.8,489.2L140.7,489.8L140.5,490.4L140.3,491.0L140.2,491.6L140.0,492.3L139.9,492.5M138.8,496.7L138.7,497.0L138.5,497.7L138.3,498.5L138.1,499.2L137.9,500.0L137.7,500.9L137.5,501.7L137.2,502.6L137.0,503.5L136.8,504.4L136.6,505.3L136.3,506.2L136.1,507.1L136.1,507.2M135.0,511.5L135.0,511.7L134.8,512.6L134.5,513.5L134.3,514.4L134.1,515.3L133.9,516.2L133.7,517.0L133.5,517.8L133.3,518.6L133.1,519.4L132.9,520.2L132.7,520.9L132.5,521.7L132.5,522.0M131.4,526.4L131.3,527.0L131.1,527.7L130.9,528.4L130.8,529.1L130.6,529.8L130.4,530.5L130.3,531.1L130.1,531.8L130.0,532.4L129.8,533.0L129.6,533.6L129.5,534.1L129.3,534.7L129.2,535.2L129.1,535.7L128.9,536.2L128.8,536.6L128.7,536.8M127.3,540.9L127.2,541.1L127.1,541.3L127.0,541.6L126.9,541.9L126.8,542.2L126.6,542.5L126.5,542.8L126.4,543.1L126.3,543.4L126.1,543.8L126.0,544.1L125.9,544.4L125.7,544.8L125.6,545.1L125.5,545.4L125.3,545.8L125.2,546.1L125.0,546.4L124.9,546.7L124.7,547.1L124.6,547.4L124.5,547.7L124.3,548.1L124.2,548.4L124.0,548.7L123.9,549.0L123.8,549.4L123.6,549.7L123.5,550.0L123.4,550.3L123.2,550.6L123.2,550.7M121.6,554.7L121.6,554.8L121.5,555.1L121.4,555.4L121.3,555.6L121.2,555.9L121.1,556.2L121.0,556.4L120.8,556.7L120.7,557.0L120.6,557.2L120.5,557.5L120.4,557.8L120.3,558.0L120.1,558.3L120.0,558.6L119.9,558.9L119.7,559.2L119.6,559.4L119.5,559.7L119.3,560.0L119.2,560.3L119.0,560.6L118.9,560.8L118.8,561.1L118.6,561.4L118.5,561.7L118.4,561.9L118.2,562.2L118.1,562.5L117.9,562.7L117.8,563.0L117.7,563.2L117.6,563.5L117.4,563.8L117.3,564.0L117.2,564.2M115.2,568.0L115.1,568.1L115.0,568.4L114.9,568.7L114.7,569.0L114.6,569.3L114.5,569.6L114.3,570.0L114.2,570.4L114.0,570.8L113.9,571.3L113.7,571.7L113.5,572.2L113.4,572.6L113.2,573.1L113.0,573.6L112.8,574.1L112.7,574.6L112.5,575.1L112.3,575.6L112.1,576.1L112.0,576.6L111.8,577.1L111.6,577.5L111.5,577.9M109.8,581.9L109.8,582.0L109.7,582.2L109.6,582.4L109.4,582.7L109.3,582.9L109.2,583.1L109.1,583.3L109.0,583.5L108.9,583.7L108.8,583.9L108.6,584.1L108.5,584.4L108.4,584.6L108.3,584.9L108.1,585.2L108.0,585.5L107.8,585.8L107.7,586.1L107.5,586.5L107.4,586.8L107.2,587.2L107.1,587.6L106.9,588.0L106.8,588.4L106.6,588.8L106.4,589.3L106.3,589.7L106.1,590.2L105.9,590.6L105.7,591.1L105.6,591.5M103.9,595.5L103.9,595.7L103.7,596.1L103.5,596.5L103.3,596.9L103.1,597.3L102.9,597.8L102.7,598.2L102.5,598.6L102.3,599.0L102.1,599.4L101.9,599.9L101.7,600.3L101.5,600.7L101.3,601.1L101.1,601.5L100.9,601.9L100.7,602.3L100.5,602.7L100.2,603.1L100.0,603.5L99.8,603.9L99.5,604.2L99.3,604.6L99.2,604.8M96.6,607.9L96.3,608.1L96.0,608.4L95.7,608.6L95.4,608.9L95.1,609.1L94.8,609.4L94.5,609.6L94.2,609.9L93.8,610.1L93.5,610.4L93.2,610.6L92.9,610.8L92.5,611.1L92.2,611.3L91.9,611.6L91.6,611.8L91.2,612.1L90.9,612.3L90.6,612.6L90.2,612.8L89.8,613.1L89.5,613.3L89.1,613.6L89.1,613.6M85.9,615.7L85.9,615.7L85.5,616.0L85.1,616.2L84.8,616.5L84.4,616.7L84.1,616.9L83.8,617.1L83.5,617.3L83.2,617.5L83.0,617.6L82.8,617.8L82.6,617.9" fill="none" stroke="#ff00ff" stroke-width="1.8" clip-path="url(#cpb)"/>
<path d="M104.5,613.5L104.6,613.3L104.7,613.1L104.9,612.8L105.0,612.6L105.2,612.4L105.3,612.1L105.5,611.9L105.7,611.7L105.9,611.4L106.0,611.2L106.2,610.9L106.4,610.7L106.6,610.4L106.8,610.2L107.0,609.9L107.1,609.7L107.3,609.4L107.5,609.1L107.7,608.8L107.9,608.5L108.0,608.2L108.2,607.9L108.4,607.6L108.5,607.3L108.7,607.0L108.9,606.7L109.0,606.3L109.1,606.0L109.3,605.7L109.4,605.4L109.6,605.0L109.7,604.7L109.8,604.3L110.0,604.0L110.1,603.6L110.2,603.3L110.4,602.9L110.5,602.5L110.6,602.1L110.7,601.7L110.9,601.3L111.0,600.9L111.1,600.5L111.2,600.0L111.4,599.6L111.5,599.1L111.6,598.6L111.8,598.1L111.9,597.6L112.0,597.1L112.1,596.7M114.7,584.4L114.8,583.9L114.9,583.2L115.1,582.5L115.2,581.9L115.3,581.3L115.4,580.6L115.6,580.0L115.7,579.4L115.8,578.8L115.9,578.2L116.0,577.5L116.1,576.9L116.2,576.3L116.3,575.7L116.4,575.1L116.5,574.5L116.6,573.9L116.7,573.3L116.8,572.7L117.0,572.1L117.1,571.5L117.2,570.9L117.3,570.3L117.4,569.7L117.5,569.0L117.6,568.4L117.7,567.8L117.8,567.2L117.9,566.6L118.0,566.0L118.0,565.9M120.3,553.5L120.3,553.5L120.4,552.9L120.5,552.3L120.6,551.7L120.7,551.2L120.8,550.7L120.9,550.2L120.9,549.7L121.0,549.2L121.1,548.7L121.2,548.3L121.2,547.8L121.3,547.3L121.4,546.9L121.4,546.4L121.5,546.0L121.6,545.5L121.7,545.0L121.7,544.5L121.8,544.0L121.9,543.5L122.0,543.0L122.1,542.4L122.2,541.9L122.3,541.3L122.5,540.6L122.6,540.0L122.7,539.3L122.9,538.6L123.1,537.9L123.2,537.2L123.4,536.4L123.6,535.7L123.7,535.1M126.7,522.9L126.8,522.3L127.0,521.5L127.2,520.7L127.4,519.9L127.6,519.1L127.7,518.3L127.9,517.5L128.1,516.8L128.3,516.0L128.5,515.2L128.6,514.4L128.8,513.6L129.0,512.8L129.2,512.1L129.3,511.3L129.5,510.5L129.7,509.7L129.8,508.9L130.0,508.2L130.2,507.4L130.4,506.6L130.5,505.8L130.7,505.0L130.8,504.6M133.5,492.3L133.6,492.1L133.7,491.2L133.9,490.4L134.1,489.6L134.3,488.8L134.5,488.0L134.6,487.3L134.8,486.5L135.0,485.8L135.1,485.1L135.3,484.4L135.4,483.7L135.6,483.0L135.8,482.4L135.9,481.7L136.0,481.1L136.2,480.5L136.3,479.9L136.5,479.4L136.6,478.8L136.7,478.3L136.9,477.8L137.0,477.2L137.1,476.7L137.3,476.2L137.4,475.7L137.5,475.2L137.6,474.8L137.8,474.3L137.8,474.0M140.6,461.8L140.7,461.5L140.8,461.0L140.9,460.5L141.0,460.0L141.1,459.5L141.2,458.9L141.3,458.4L141.4,457.8L141.5,457.3L141.7,456.7L141.8,456.1L141.9,455.5L142.0,454.9L142.1,454.3L142.2,453.7L142.3,453.1L142.5,452.5L142.6,451.9L142.7,451.3L142.8,450.6L142.9,450.0L143.1,449.4L143.2,448.8L143.3,448.1L143.4,447.5L143.6,446.9L143.7,446.3L143.8,445.7L143.9,445.1L144.0,444.5L144.2,443.9L144.3,443.4M147.0,431.2L147.0,431.1L147.2,430.4L147.3,429.8L147.5,429.1L147.6,428.4L147.8,427.7L148.0,427.0L148.1,426.2L148.3,425.5L148.5,424.8L148.6,424.0L148.8,423.3L149.0,422.6L149.2,421.8L149.3,421.1L149.5,420.4L149.7,419.7L149.9,419.0L150.1,418.2L150.2,417.6L150.4,416.9L150.6,416.2L150.8,415.6L151.0,414.9L151.2,414.3L151.4,413.7L151.6,413.1L151.6,413.0M156.5,401.6L156.6,401.4L156.8,401.1L157.0,400.7L157.2,400.4L157.4,400.1L157.5,399.7L157.7,399.4L157.9,399.2L158.1,398.9L158.3,398.6L158.5,398.4L158.6,398.1L158.8,397.9L159.0,397.7L159.1,397.4L159.3,397.2L159.5,397.0L159.7,396.9L159.8,396.7L160.0,396.5L160.1,396.3L160.3,396.2L160.4,396.0L160.6,395.9L160.7,395.8L160.9,395.6L161.0,395.5L161.2,395.4L161.3,395.3L161.4,395.2L161.6,395.2L161.7,395.1L161.8,395.0L161.9,395.0L162.0,394.9L162.2,394.9L162.3,394.9L162.4,394.9L162.5,394.9L162.6,394.9L162.7,394.9L162.9,394.9L163.0,394.9L163.1,394.9L163.3,395.0L163.4,395.0L163.6,395.0L163.7,395.1L163.9,395.2L164.0,395.2L164.2,395.3L164.3,395.3L164.5,395.4L164.6,395.5L164.8,395.6L164.9,395.7L165.1,395.8L165.3,395.9L165.4,396.0L165.6,396.1L165.8,396.2L165.9,396.4L166.1,396.5L166.3,396.7L166.5,396.9L166.7,397.1L166.9,397.3L167.1,397.5L167.3,397.8L167.5,398.0L167.7,398.3L167.9,398.6L168.1,398.9L168.4,399.3L168.6,399.7L168.9,400.1L169.1,400.5M175.1,411.3L175.1,411.3L175.3,411.6L175.4,411.8L175.6,412.1L175.7,412.3L175.8,412.5L176.0,412.7L176.1,412.9L176.2,413.1L176.4,413.3L176.5,413.4L176.6,413.6L176.7,413.8L176.8,413.9L177.0,414.0L177.1,414.2L177.2,414.3L177.3,414.4L177.5,414.5L177.6,414.6L177.7,414.7L177.9,414.8L178.0,414.8L178.1,414.8L178.3,414.9L178.4,414.9L178.5,414.9L178.7,414.8L178.8,414.8L178.9,414.8L179.1,414.7L179.2,414.7L179.3,414.7L179.5,414.6L179.6,414.6L179.7,414.5L179.8,414.5L180.0,414.4L180.1,414.4L180.2,414.4L180.3,414.4L180.5,414.4L180.6,414.4L180.7,414.4L180.8,414.4L180.9,414.5L181.0,414.5L181.2,414.5L181.3,414.5L181.4,414.6L181.5,414.6L181.6,414.6L181.7,414.7L181.8,414.7L181.9,414.8L182.0,414.8L182.1,414.9L182.2,414.9L182.3,415.0L182.4,415.1L182.5,415.1L182.6,415.2L182.7,415.3L182.8,415.4L182.9,415.5L183.1,415.6L183.2,415.8L183.3,415.9L183.4,416.0L183.5,416.2L183.7,416.3L183.8,416.5L183.9,416.6L184.0,416.8L184.2,416.9L184.3,417.1L184.4,417.2L184.5,417.4L184.7,417.6L184.8,417.8L184.9,418.0L185.0,418.2L185.2,418.4L185.3,418.6L185.5,418.9L185.6,419.2L185.7,419.5L185.9,419.8L186.0,420.1L186.2,420.4L186.3,420.8L186.5,421.2L186.7,421.6L186.8,422.1L187.0,422.5L187.1,422.7M190.8,434.6L190.8,434.7L191.0,435.3L191.2,435.9L191.4,436.5L191.5,437.1L191.7,437.7L191.9,438.3L192.1,438.9L192.3,439.5L192.5,440.1L192.6,440.7L192.8,441.3L193.0,441.9L193.2,442.5L193.4,443.1L193.5,443.8L193.7,444.4L193.9,445.0L194.1,445.6L194.2,446.2L194.4,446.8L194.6,447.4L194.7,448.0L194.9,448.7L195.0,449.3L195.2,449.9L195.3,450.5L195.5,451.1L195.6,451.8L195.8,452.4L195.8,452.7M198.3,465.0L198.3,465.0L198.4,465.6L198.6,466.2L198.7,466.9L198.9,467.5L199.0,468.1L199.2,468.7L199.3,469.3L199.4,469.9L199.6,470.6L199.7,471.2L199.9,471.8L200.0,472.4L200.2,473.0L200.3,473.6L200.5,474.2L200.7,474.9L200.8,475.5L201.0,476.1L201.1,476.8L201.3,477.4L201.5,478.0L201.7,478.7L201.8,479.3L202.0,480.0L202.2,480.7L202.4,481.3L202.6,482.0L202.7,482.7L202.9,483.2M206.4,495.2L206.4,495.4L206.6,496.1L206.8,496.8L207.0,497.5L207.2,498.2L207.3,498.9L207.5,499.6L207.7,500.3L207.9,501.0L208.0,501.7L208.2,502.4L208.4,503.2L208.6,503.9L208.7,504.6L208.9,505.3L209.1,506.0L209.2,506.7L209.4,507.4L209.6,508.1L209.7,508.8L209.9,509.5L210.1,510.2L210.2,510.8L210.4,511.5L210.6,512.2L210.7,512.8L210.9,513.4M214.3,525.4L214.5,525.9L214.6,526.5L214.8,527.1L214.9,527.6L215.1,528.2L215.3,528.7L215.4,529.3L215.5,529.8L215.7,530.3L215.8,530.8L216.0,531.3L216.1,531.8L216.2,532.2L216.4,532.7L216.5,533.2L216.6,533.6L216.8,534.1L216.9,534.6L217.0,535.0L217.1,535.5L217.3,536.0L217.4,536.4L217.5,536.9L217.7,537.4L217.8,537.9L218.0,538.4L218.1,538.9L218.2,539.5L218.4,540.0L218.6,540.6L218.7,541.1L218.9,541.7L219.0,542.3L219.2,542.9L219.3,543.5L219.3,543.5M222.9,555.5L223.0,555.9L223.3,556.5L223.5,557.2L223.8,557.8L224.0,558.4L224.3,559.0L224.5,559.6L224.8,560.3L225.0,560.9L225.3,561.5L225.6,562.1L225.8,562.7L226.1,563.4L226.4,564.0L226.7,564.6L226.9,565.2L227.2,565.8L227.5,566.4L227.7,567.0L228.0,567.6L228.3,568.2L228.5,568.7L228.8,569.3L229.1,569.9L229.3,570.4L229.6,571.0L229.8,571.6L230.1,572.2L230.3,572.6M236.2,583.4L236.4,583.7L236.7,584.0L236.9,584.2L237.2,584.5L237.5,584.8L237.7,585.1L238.0,585.3L238.2,585.5L238.5,585.8L238.8,586.0L239.0,586.2L239.3,586.5L239.6,586.7L239.8,586.9L240.1,587.1L240.4,587.3L240.6,587.5L240.9,587.8L241.1,588.0L241.4,588.2L241.7,588.4L241.9,588.6L242.1,588.8L242.4,589.0L242.6,589.2L242.8,589.4L243.0,589.6L243.3,589.8L243.5,590.0L243.7,590.1L243.9,590.3L244.2,590.5L244.4,590.7L244.6,590.8L244.9,591.0L245.1,591.2L245.4,591.4L245.7,591.6L246.0,591.7L246.3,591.9L246.6,592.1L247.0,592.4L247.3,592.6L247.7,592.8L248.1,593.0L248.5,593.3L249.0,593.6L249.5,593.8L250.0,594.1L250.5,594.4M261.2,599.6L261.4,599.7L261.7,599.8L262.0,599.9L262.3,600.0L262.6,600.0L262.9,600.1L263.1,600.1L263.4,600.2L263.6,600.2L263.9,600.2L264.1,600.2L264.3,600.2L264.5,600.3L264.7,600.3L265.0,600.3L265.2,600.3L265.4,600.4L265.6,600.4L265.8,600.5L266.0,600.5L266.3,600.6L266.5,600.7L266.7,600.8L267.0,600.9L267.2,601.0L267.4,601.1L267.7,601.3L267.9,601.4L268.1,601.5L268.4,601.7L268.6,601.8L268.8,601.9L269.1,602.1L269.3,602.2L269.5,602.4L269.7,602.5L269.9,602.7L270.1,602.8L270.4,602.9L270.6,603.1L270.8,603.2L271.0,603.4L271.2,603.5L271.4,603.6L271.6,603.8L271.8,603.9L272.0,604.0L272.2,604.1L272.3,604.2L272.5,604.3L272.7,604.4L272.8,604.5L272.9,604.6L273.1,604.7L273.2,604.7L273.4,604.8L273.5,604.9L273.6,605.0L273.8,605.1L273.9,605.1L274.1,605.2L274.3,605.3L274.4,605.5L274.6,605.6L274.8,605.7L275.0,605.9L275.2,606.0L275.5,606.2L275.7,606.4L276.0,606.6L276.3,606.8L276.6,607.1L276.9,607.4L277.0,607.4M286.5,614.9L286.5,614.9L286.8,615.1L287.2,615.3L287.5,615.5L287.9,615.6L288.2,615.8L288.6,615.9L288.9,616.1L289.3,616.2L289.6,616.3L289.9,616.5L290.3,616.6L290.6,616.7L290.9,616.8L291.2,616.9L291.5,617.0L291.8,617.1L292.0,617.2L292.3,617.3L292.5,617.3L292.8,617.4L293.0,617.5L293.2,617.6L293.4,617.6L293.6,617.7L293.8,617.7L293.9,617.8L294.1,617.8L294.2,617.9L294.4,617.9L294.5,617.9L294.6,617.9L294.7,617.9L294.8,618.0L294.9,618.0L295.0,618.0L295.1,618.0L295.2,618.0L295.3,618.0L295.3,618.0L295.4,618.0L295.5,618.0L295.5,618.0L295.6,618.0L295.6,618.0L295.7,618.0" fill="none" stroke="#000" stroke-width="1.8"/>
<g opacity="0.999">
<text x="52.4" y="315.2" font-size="15.2" fill="#000" stroke="#000" text-anchor="start" textLength="9.6" lengthAdjust="spacingAndGlyphs" font-family="Liberation Sans, sans-serif" style="stroke-width:0.28px">0</text>
<text x="37.4" y="212.0" font-size="15.2" fill="#000" stroke="#000" text-anchor="start" textLength="24.4" lengthAdjust="spacingAndGlyphs" font-family="Liberation Sans, sans-serif" style="stroke-width:0.28px">0.5</text>
<text x="53.2" y="109.1" font-size="16.2" fill="#000" stroke="#000" text-anchor="start" textLength="8.4" lengthAdjust="spacingAndGlyphs">1</text>
<text x="52.4" y="623.7" font-size="15.2" fill="#000" stroke="#000" text-anchor="start" textLength="9.6" lengthAdjust="spacingAndGlyphs" font-family="Liberation Sans, sans-serif" style="stroke-width:0.28px">0</text>
<text x="37.4" y="520.5" font-size="15.2" fill="#000" stroke="#000" text-anchor="start" textLength="24.4" lengthAdjust="spacingAndGlyphs" font-family="Liberation Sans, sans-serif" style="stroke-width:0.28px">0.5</text>
<text x="53.2" y="417.6" font-size="16.2" fill="#000" stroke="#000" text-anchor="start" textLength="8.4" lengthAdjust="spacingAndGlyphs">1</text>
<path d="M87.0,635.7H96.8" stroke="#000" stroke-width="1.15" fill="none"/>
<text x="99.1" y="640.4" font-size="15.2" fill="#000" stroke="#000" text-anchor="start" textLength="23.6" lengthAdjust="spacingAndGlyphs" font-family="Liberation Sans, sans-serif" style="stroke-width:0.28px">0.2</text>
<text x="168.6" y="640.4" font-size="15.2" fill="#000" stroke="#000" text-anchor="start" textLength="8.8" lengthAdjust="spacingAndGlyphs" font-family="Liberation Sans, sans-serif" style="stroke-width:0.28px">0</text>
<text x="230.7" y="640.4" font-size="15.2" fill="#000" stroke="#000" text-anchor="start" textLength="23.0" lengthAdjust="spacingAndGlyphs" font-family="Liberation Sans, sans-serif" style="stroke-width:0.28px">0.2</text>
<text x="299.7" y="640.4" font-size="15.2" fill="#000" stroke="#000" text-anchor="start" textLength="23.3" lengthAdjust="spacingAndGlyphs" font-family="Liberation Sans, sans-serif" style="stroke-width:0.28px">0.4</text>
<text x="102.0" y="42.5" font-size="17.6" fill="#000" stroke="#000" text-anchor="start" textLength="21.8" lengthAdjust="spacingAndGlyphs">(a)</text>
<text x="102.0" y="351.6" font-size="17.6" fill="#000" stroke="#000" text-anchor="start" textLength="22.0" lengthAdjust="spacingAndGlyphs">(b)</text>
<text x="275.4" y="42.6" font-size="15.4" fill="#000" stroke="#000" text-anchor="start" textLength="30.9" lengthAdjust="spacingAndGlyphs">NGC</text>
<text x="316.4" y="42.6" font-size="15.4" fill="#000" stroke="#000" text-anchor="start" textLength="36.6" lengthAdjust="spacingAndGlyphs">1651</text>
<text x="265.5" y="67.3" font-size="15.4" fill="#ff0000" stroke="#ff0000" text-anchor="start" textLength="36.9" lengthAdjust="spacingAndGlyphs">Multi</text>
<path d="M304.0,61.9H313.3" stroke="#ff0000" stroke-width="1.15" fill="none"/>
<text x="313.9" y="67.3" font-size="15.4" fill="#ff0000" stroke="#ff0000" text-anchor="start" textLength="25.4" lengthAdjust="spacingAndGlyphs">SSP</text>
<text x="273.4" y="84.2" font-size="15.4" fill="#ff0000" stroke="#ff0000" text-anchor="start" textLength="80.4" lengthAdjust="spacingAndGlyphs">Simulation</text>
<text x="275.4" y="351.5" font-size="15.4" fill="#000" stroke="#000" text-anchor="start" textLength="30.9" lengthAdjust="spacingAndGlyphs">NGC</text>
<text x="316.4" y="351.5" font-size="15.4" fill="#000" stroke="#000" text-anchor="start" textLength="36.6" lengthAdjust="spacingAndGlyphs">1651</text>
<text x="265.5" y="376.2" font-size="15.4" fill="#ff0000" stroke="#ff0000" text-anchor="start" textLength="36.9" lengthAdjust="spacingAndGlyphs">Multi</text>
<path d="M304.0,370.8H313.3" stroke="#ff0000" stroke-width="1.15" fill="none"/>
<text x="313.9" y="376.2" font-size="15.4" fill="#ff0000" stroke="#ff0000" text-anchor="start" textLength="25.4" lengthAdjust="spacingAndGlyphs">SSP</text>
<text x="273.4" y="393.1" font-size="15.4" fill="#ff0000" stroke="#ff0000" text-anchor="start" textLength="80.4" lengthAdjust="spacingAndGlyphs">Simulation</text>
<text x="265.5" y="108.8" font-size="15.4" fill="#0000ff" stroke="#0000ff" text-anchor="start" textLength="42.0" lengthAdjust="spacingAndGlyphs">Single</text>
<text x="317.6" y="108.8" font-size="15.4" fill="#0000ff" stroke="#0000ff" text-anchor="start" textLength="25.6" lengthAdjust="spacingAndGlyphs">SSP</text>
<text x="273.4" y="125.8" font-size="15.4" fill="#0000ff" stroke="#0000ff" text-anchor="start" textLength="80.4" lengthAdjust="spacingAndGlyphs">Simulation</text>
<text x="271.2" y="157.9" font-size="15.4" fill="#000" stroke="#000" text-anchor="start" textLength="45.3" lengthAdjust="spacingAndGlyphs" font-style="italic">(M+08</text>
<text x="323.9" y="157.9" font-size="15.4" fill="#000" stroke="#000" text-anchor="start" textLength="29.9" lengthAdjust="spacingAndGlyphs" font-style="italic">iso.)</text>
<text x="226.4" y="417.8" font-size="15.4" fill="#000" stroke="#000" text-anchor="start" textLength="47.7" lengthAdjust="spacingAndGlyphs">Binary</text>
<text x="281.4" y="417.8" font-size="15.4" fill="#000" stroke="#000" text-anchor="start" textLength="72.6" lengthAdjust="spacingAndGlyphs">fractions:</text>
<text x="265.8" y="438.0" font-size="15.4" fill="#000" stroke="#000" text-anchor="start" textLength="25.6" lengthAdjust="spacingAndGlyphs" font-family="Liberation Sans, sans-serif" style="stroke-width:0.28px">0.0,</text>
<text x="299.7" y="438.0" font-size="15.4" fill="#000" stroke="#000" text-anchor="start" textLength="24.7" lengthAdjust="spacingAndGlyphs" font-family="Liberation Sans, sans-serif" style="stroke-width:0.28px">0.2,</text>
<text x="333.1" y="438.0" font-size="15.4" fill="#000" stroke="#000" text-anchor="start" textLength="21.8" lengthAdjust="spacingAndGlyphs" font-family="Liberation Sans, sans-serif" style="stroke-width:0.28px">0.4</text>
<text x="70.9" y="668.8" font-size="17.0" fill="#000" stroke="#000" text-anchor="start" textLength="50.0" lengthAdjust="spacingAndGlyphs">F475W</text>
<text x="128.9" y="668.8" font-size="17.0" fill="#000" stroke="#000" text-anchor="start" textLength="30.5" lengthAdjust="spacingAndGlyphs">(2.0</text>
<text x="168.6" y="668.8" font-size="17.0" fill="#000" stroke="#000" text-anchor="start" textLength="33.2" lengthAdjust="spacingAndGlyphs">Gyr)</text>
<path d="M212.6,663.6H223.0" stroke="#000" stroke-width="1.15" fill="none"/>
<text x="233.1" y="668.8" font-size="17.0" fill="#000" stroke="#000" text-anchor="start" textLength="49.5" lengthAdjust="spacingAndGlyphs">F475W</text>
<text x="291.6" y="668.8" font-size="17.0" fill="#000" stroke="#000" text-anchor="start" textLength="87.4" lengthAdjust="spacingAndGlyphs">(observed)</text>
<g transform="translate(13.7,278.1) rotate(-90)">
<text x="0.0" y="0.0" font-size="17.0" fill="#000" stroke="#000" text-anchor="start" textLength="63.4" lengthAdjust="spacingAndGlyphs">Relative</text>
<text x="72.8" y="0.0" font-size="17.0" fill="#000" stroke="#000" text-anchor="start" textLength="62.6" lengthAdjust="spacingAndGlyphs">density</text>
<text x="142.6" y="0.0" font-size="17.0" fill="#000" stroke="#000" text-anchor="start" textLength="16.5" lengthAdjust="spacingAndGlyphs">of</text>
<text x="165.5" y="0.0" font-size="17.0" fill="#000" stroke="#000" text-anchor="start" textLength="31.2" lengthAdjust="spacingAndGlyphs">SGB</text>
<text x="206.1" y="0.0" font-size="17.0" fill="#000" stroke="#000" text-anchor="start" textLength="39.1" lengthAdjust="spacingAndGlyphs">stars</text>
</g>
<g transform="translate(13.7,587.1) rotate(-90)">
<text x="0.0" y="0.0" font-size="17.0" fill="#000" stroke="#000" text-anchor="start" textLength="63.4" lengthAdjust="spacingAndGlyphs">Relative</text>
<text x="72.8" y="0.0" font-size="17.0" fill="#000" stroke="#000" text-anchor="start" textLength="62.6" lengthAdjust="spacingAndGlyphs">density</text>
<text x="142.6" y="0.0" font-size="17.0" fill="#000" stroke="#000" text-anchor="start" textLength="16.5" lengthAdjust="spacingAndGlyphs">of</text>
<text x="165.5" y="0.0" font-size="17.0" fill="#000" stroke="#000" text-anchor="start" textLength="31.2" lengthAdjust="spacingAndGlyphs">SGB</text>
<text x="206.1" y="0.0" font-size="17.0" fill="#000" stroke="#000" text-anchor="start" textLength="39.1" lengthAdjust="spacingAndGlyphs">stars</text>
</g>
</g>
</svg>
</body></html>
